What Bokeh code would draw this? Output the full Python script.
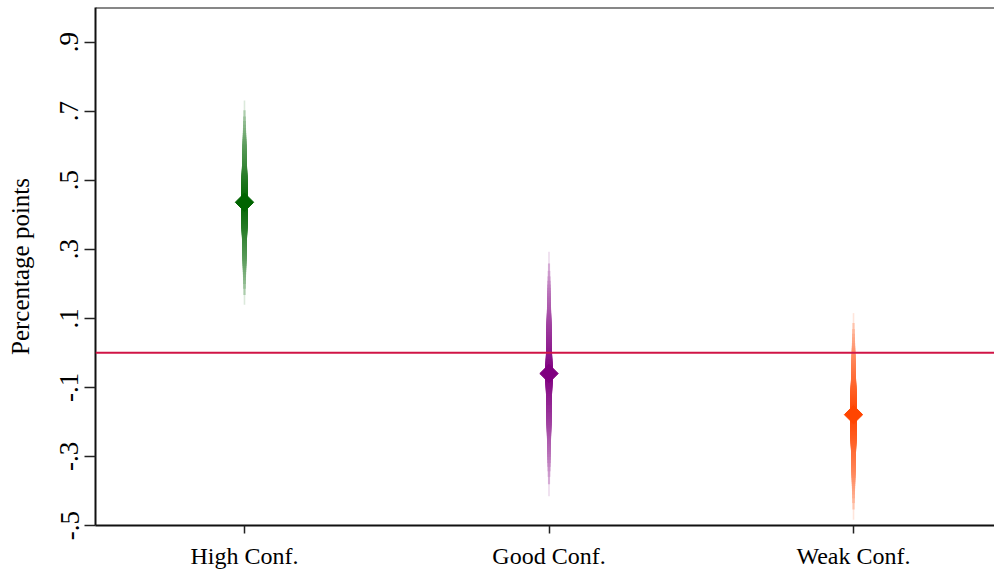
import math
from statistics import NormalDist

from bokeh.plotting import figure
from bokeh.models import ColumnDataSource, Range1d, FixedTicker, Span
from bokeh.embed import file_html
from bokeh.resources import INLINE

# ---------------- data ----------------
categories = ["High Conf.", "Good Conf.", "Weak Conf."]
estimates = [0.436, -0.060, -0.179]
ci99_low = [0.139, -0.415, -0.483]
ci99_high = [0.731, 0.293, 0.115]
colors = ["#006400", "#800080", "#FF4500"]
y_ticks = [-0.5, -0.3, -0.1, 0.1, 0.3, 0.5, 0.7, 0.9]
y_tick_labels = ["-.5", "-.3", "-.1", ".1", ".3", ".5", ".7", ".9"]
ci_levels = list(range(99, 0, -1))   # smoothed CI levels (outer -> inner)

# ---------------- styling helpers ----------------
FONT = "Liberation Serif"
W_MIN, W_MAX = 1.6, 7.0
T_MIN = 0.14


def mix_white(hex_color, t):
    h = hex_color.lstrip("#")
    r, g, b = (int(h[i:i + 2], 16) for i in (0, 2, 4))
    r = round(255 + t * (r - 255))
    g = round(255 + t * (g - 255))
    b = round(255 + t * (b - 255))
    return "#%02x%02x%02x" % (r, g, b)


nd = NormalDist()
z99 = nd.inv_cdf(0.5 + 0.99 / 2)

seg = dict(x0=[], y0=[], x1=[], y1=[], w=[], c=[])
for i, cat in enumerate(categories):
    xpos = i + 1
    est = estimates[i]
    for L in ci_levels:
        z = nd.inv_cdf(0.5 + (L / 100.0) / 2)
        frac = z / z99
        lo = est - (est - ci99_low[i]) * frac
        hi = est + (ci99_high[i] - est) * frac
        s = 1.0 - frac
        seg["x0"].append(xpos)
        seg["x1"].append(xpos)
        seg["y0"].append(lo)
        seg["y1"].append(hi)
        seg["w"].append(W_MIN + (W_MAX - W_MIN) * s)
        seg["c"].append(mix_white(colors[i], T_MIN + (1 - T_MIN) * s ** 0.65))

seg_src = ColumnDataSource(seg)
pt_src = ColumnDataSource(dict(x=[i + 1 for i in range(len(categories))],
                               y=estimates, c=colors))

p = figure(width=994, height=571, output_backend="svg", toolbar_location=None,
           x_range=Range1d(0.5107, 3.463), y_range=Range1d(-0.5, 1.0),
           min_border_left=95, min_border_right=0, min_border_top=7,
           min_border_bottom=0)
p.outline_line_color = None
p.xgrid.visible = False
p.ygrid.visible = False
p.background_fill_color = "white"
p.border_fill_color = "white"

p.segment(x0="x0", y0="y0", x1="x1", y1="y1", line_width="w", line_color="c",
          line_cap="butt", source=seg_src)
p.scatter(x="x", y="y", marker="square", size=13, angle=math.pi / 4,
          fill_color="c", line_color="c", line_width=1, source=pt_src)

zero = Span(location=0, dimension="width", line_color="#D01446", line_width=2)
p.add_layout(zero)
top = Span(location=1.0, dimension="width", line_color="#111111", line_width=2)
p.add_layout(top)

# x axis
xa = p.xaxis[0]
xa.ticker = FixedTicker(ticks=[i + 1 for i in range(len(categories))])
xa.major_label_overrides = {i + 1: c for i, c in enumerate(categories)}
xa.major_tick_out = 8
xa.major_tick_in = 0
xa.minor_tick_out = 0
xa.minor_tick_in = 0
xa.major_label_standoff = 9
xa.major_label_text_font = FONT
xa.major_label_text_font_size = "24px"
xa.major_label_text_color = "black"
xa.axis_line_width = 2
xa.axis_line_color = "#111111"
xa.major_tick_line_color = "#222222"
xa.major_tick_line_width = 1.5

# y axis
ya = p.yaxis[0]
ya.ticker = FixedTicker(ticks=y_ticks)
ya.major_label_overrides = {t: l for t, l in zip(y_ticks, y_tick_labels)}
ya.major_label_orientation = "vertical"
ya.major_tick_out = 11
ya.major_tick_in = 0
ya.minor_tick_out = 0
ya.minor_tick_in = 0
ya.major_label_standoff = 6
ya.major_label_text_font = FONT
ya.major_label_text_font_size = "27px"
ya.major_label_text_color = "black"
ya.axis_label = "Percentage points"
ya.axis_label_text_font = FONT
ya.axis_label_text_font_size = "25px"
ya.axis_label_text_font_style = "normal"
ya.axis_label_text_color = "black"
ya.axis_label_standoff = 24
ya.axis_line_width = 2
ya.axis_line_color = "#111111"
ya.major_tick_line_color = "#222222"
ya.major_tick_line_width = 1.5

open("out.html", "w").write(file_html(p, INLINE))
